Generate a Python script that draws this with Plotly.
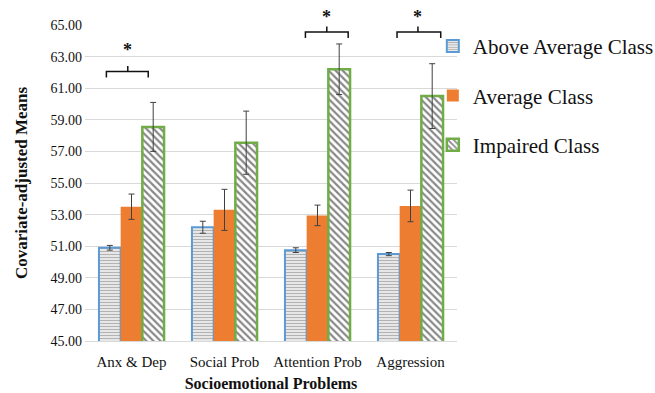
import plotly.graph_objects as go

categories = ["Anx &amp; Dep", "Social Prob", "Attention Prob", "Aggression"]
series_names = ["Above Average Class", "Average Class", "Impaired Class"]
above_vals = [50.9, 52.2, 50.75, 50.5]
above_err = [0.15, 0.38, 0.15, 0.1]
avg_vals = [53.5, 53.3, 52.95, 53.55]
avg_err = [0.8, 1.3, 0.65, 1.0]
impaired_vals = [58.55, 57.55, 62.2, 60.5]
impaired_err = [1.55, 2.0, 1.6, 2.05]
y_ticks = [45, 47, 49, 51, 53, 55, 57, 59, 61, 63, 65]

# significance brackets: category index, left/right/tick offsets (category units), bracket level
sig_cats = [0, 2, 3]
sig_left = [-0.27, -0.13, -0.145]
sig_right = [0.18, 0.33, 0.325]
sig_mid = [-0.04, 0.10, 0.08]
sig_level = [62.05, 64.56, 64.56]
sig_star_gap = [2.1, 1.7, 1.7]

Y_MIN, Y_MAX = 45, 65
xs = list(range(len(categories)))
FONT = "Liberation Serif, Times New Roman, serif"
err_style = dict(type="data", thickness=1, width=3, color="#404040")

fig = go.Figure()
fig.add_trace(go.Bar(
    x=xs, y=above_vals, name=series_names[0], legendgroup="a",
    error_y=dict(array=above_err, **err_style),
    marker=dict(color="white", line=dict(color="#5B9BD5", width=2),
                pattern=dict(shape="-", fgcolor="#666666", bgcolor="white", size=3, solidity=0.55)),
))
fig.add_trace(go.Bar(
    x=xs, y=avg_vals, name=series_names[1], legendgroup="b",
    error_y=dict(array=avg_err, **err_style),
    marker=dict(color="#ED7D31", line=dict(color="#ED7D31", width=0)),
))
fig.add_trace(go.Bar(
    x=xs, y=impaired_vals, name=series_names[2], legendgroup="c",
    error_y=dict(array=impaired_err, **err_style),
    marker=dict(color="white", line=dict(color="#70AD47", width=2.5),
                pattern=dict(shape="\\", fgcolor="#111111", bgcolor="white", size=5, solidity=0.45)),
))

for c, l, r, m, lev, gap in zip(sig_cats, sig_left, sig_right, sig_mid, sig_level, sig_star_gap):
    x0, x1, xm = c + l, c + r, c + m
    drop = 0.38
    path = (f"M {x0},{lev - drop} L {x0},{lev} L {x1},{lev} L {x1},{lev - drop} "
            f"M {xm},{lev} L {xm},{lev + 0.35}")
    fig.add_shape(type="path", path=path, xref="x", yref="y",
                  line=dict(color="#111111", width=1.5))
    fig.add_annotation(x=xm, y=(lev + gap - Y_MIN) / (Y_MAX - Y_MIN), xref="x", yref="paper",
                       text="<b>*</b>", showarrow=False,
                       font=dict(family=FONT, size=18, color="#111111"))

fig.update_layout(
    width=655, height=393,
    margin=dict(l=85, r=198, t=25, b=52, autoexpand=False),
    plot_bgcolor="white", paper_bgcolor="white",
    barmode="group", bargap=0.3, bargroupgap=0,
    font=dict(family=FONT, color="#111111"),
    legend=dict(x=0.935, xanchor="left", y=0.997, yanchor="top",
                font=dict(family=FONT, size=21, color="#111111"),
                bgcolor="rgba(0,0,0,0)", tracegroupgap=19, itemwidth=30),
    showlegend=True,
)
fig.update_xaxes(
    range=[-0.5, 3.5], tickmode="array", tickvals=xs, ticktext=categories,
    tickfont=dict(family=FONT, size=15), showgrid=False, automargin=False,
    showline=True, linecolor="#D9D9D9", linewidth=1, ticks="", ticklabelstandoff=7,
    title=dict(text="<b>Socioemotional Problems</b>", font=dict(family=FONT, size=16), standoff=8),
)
fig.update_yaxes(
    range=[Y_MIN, Y_MAX], tickmode="array", tickvals=y_ticks, tickformat=".2f",
    tickfont=dict(family=FONT, size=14), showgrid=True, gridcolor="#D9D9D9", gridwidth=1,
    zeroline=False, showline=False, ticks="", ticklabelstandoff=2, automargin=False,
    title=dict(text="<b>Covariate-adjusted Means</b>", font=dict(family=FONT, size=17), standoff=18),
)

fig.write_html("out.html", config={"displayModeBar": False},
               post_script="document.body.style.margin='0';")
